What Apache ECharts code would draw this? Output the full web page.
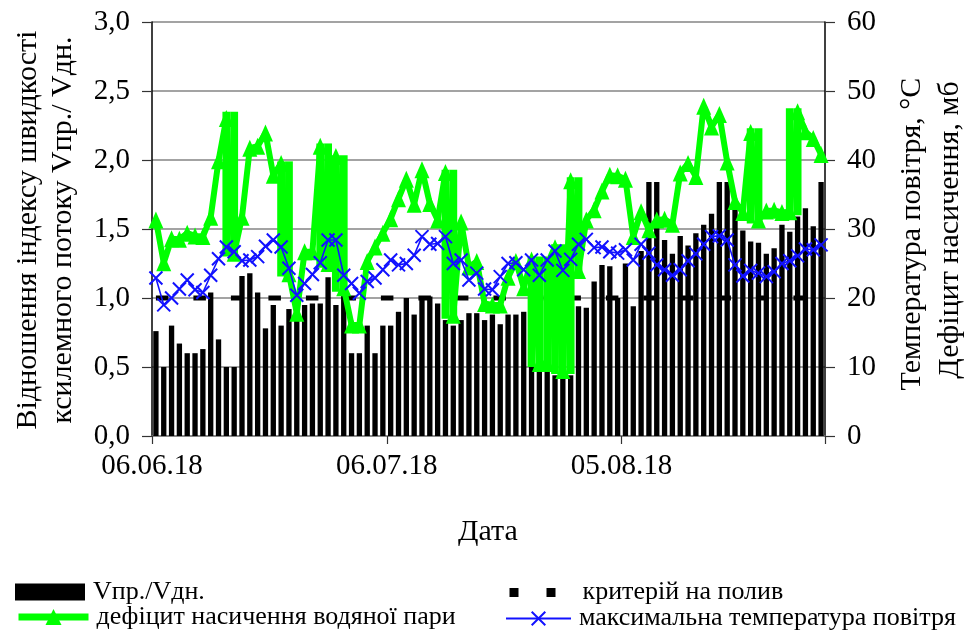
<!DOCTYPE html>
<html><head><meta charset="utf-8">
<script src="https://cdn.jsdelivr.net/npm/echarts@6/dist/echarts.min.js"></script>
<style>html,body{margin:0;padding:0;background:#fff}#c{width:968px;height:635px}</style>
</head><body><div id="c"></div>
<script>
// ---- categories (daily, 06.06.2018 .. 30.08.2018) ----
const firstDay = [2018, 6, 6];
const dayCount = 86;
const dates = [];
for (let i = 0; i < dayCount; i++) {
  const d = new Date(Date.UTC(firstDay[0], firstDay[1] - 1, firstDay[2] + i));
  dates.push(String(d.getUTCDate()).padStart(2, '0') + '.' + String(d.getUTCMonth() + 1).padStart(2, '0') + '.18');
}
const labelledDates = ['06.06.18', '06.07.18', '05.08.18'];

// ---- series values ----
const ratio = [0.76,0.50,0.80,0.67,0.60,0.60,0.63,1.04,0.70,0.50,
  0.50,1.16,1.18,1.04,0.78,0.95,0.80,0.92,0.93,0.95,
  0.96,0.96,1.15,0.95,1.03,0.60,0.60,0.80,0.60,0.80,
  0.80,0.90,1.00,0.88,1.00,1.01,0.96,0.84,0.80,0.84,
  0.89,0.89,0.84,0.88,0.81,0.88,0.88,0.90,0.56,0.50,
  0.50,0.44,0.44,0.44,0.94,0.93,1.12,1.24,1.23,1.00,
  1.25,0.94,1.34,1.84,1.84,1.42,1.32,1.45,1.38,1.47,
  1.53,1.61,1.84,1.84,1.69,1.49,1.41,1.40,1.32,1.36,
  1.53,1.48,1.59,1.65,1.52,1.84];

const criterion = [1,1,1,1,1,1,1,1,1,1, 1,1,1,1,1,1,1,1,1,1, 1,1,1,1,1,1,1,1,1,1,
  1,1,1,1,1,1,1,1,1,1, 1,1,1,1,1,1,1,1,1,1, 1,1,1,1,1,1,1,1,1,1,
  1,1,1,1,1,1,1,1,1,1, 1,1,1,1,1,1,1,1,1,1, 1,1,1,1,1,1];

const deficit = [31.3,25.1,28.6,28.5,29.4,29.0,28.9,31.7,39.9,46.0,
  26.5,31.7,41.7,42.0,43.9,37.8,39.5,23.5,17.8,26.7,
  26.7,42.0,25.0,40.5,21.5,16.1,16.1,25.3,27.4,29.4,
  31.5,34.4,37.2,33.6,38.6,33.7,31.3,38.2,17.5,31.0,
  24.5,25.3,19.2,19.0,19.0,23.0,25.3,21.5,25.5,10.5,
  10.5,27.3,9.5,37.0,24.0,31.3,32.8,35.5,37.8,37.7,
  37.2,28.9,32.5,29.9,31.3,31.4,30.7,38.1,39.5,37.6,
  47.8,44.8,46.6,39.7,34.0,32.4,44.0,31.3,32.6,32.7,
  32.4,32.5,47.0,44.1,43.1,40.8];

// days where the deficit trace forms solid vertical bands (low..high)
const spanDays = [9,10,16,17,21,22,23,24,37,38,48,49,50,51,52,53,54,76,77,81,82];
const spanLow  = [26,26,23.1,23.1,24.4,24.4,20.9,20.9,17.0,17.0,10,10,10,9,9,9,23.5,30.8,30.8,32,32];
const spanHigh = [47,47,39.8,39.8,42.4,42.4,40.7,40.7,38.6,38.6,26,26,26,27.8,27.8,37.5,37.5,44.6,44.6,47.5,47.5];

const temperature = [22.9,19.0,20.0,21.3,22.6,21.2,20.8,23.3,25.7,27.4,
  26.7,25.4,25.5,26.0,27.5,28.4,27.4,24.3,20.4,22.1,
  23.4,25.1,28.4,28.4,23.3,22.1,20.7,22.4,22.9,24.1,
  25.5,24.8,25.0,26.2,28.9,27.8,27.9,28.9,25.0,25.5,
  22.6,23.6,21.3,21.2,23.1,25.0,25.1,24.1,25.5,23.3,
  25.5,26.8,24.0,25.6,27.8,28.5,27.3,27.4,26.7,26.5,
  27.0,25.5,27.8,26.5,24.8,24.1,23.3,24.1,25.4,26.4,
  27.8,28.9,29.0,28.4,24.8,23.2,24.0,23.6,23.1,23.8,
  25.0,25.4,26.1,27.1,27.0,27.7];

// ---- axis ticks ----
const leftTicks = {min: 0, max: 3, step: 0.5};
const rightTicks = {min: 0, max: 60, step: 10};

const names = {
  ratio: 'Vпр./Vдн.',
  criterion: 'критерій на полив',
  deficit: 'дефіцит насичення водяної пари',
  temp: 'максимальна температура повітря'
};

const spanBase = dates.map(() => null);
const spanSize = dates.map(() => null);
spanDays.forEach((d, i) => { spanBase[d] = spanLow[i]; spanSize[d] = +(spanHigh[i] - spanLow[i]).toFixed(2); });

const FONT = 'Liberation Serif';
const GREEN = '#00ff00';
const BLUE = '#1212ff';
const isLabelled = (idx) => labelledDates.indexOf(dates[idx]) >= 0;

const legendText = {fontFamily: FONT, fontSize: 26, color: '#000', lineHeight: 26, padding: [0, 0, 0, 3]};
const legendBase = {orient: 'vertical', padding: 0, itemGap: 0, textStyle: legendText};

const chart = echarts.init(document.getElementById('c'), null, {renderer: 'canvas'});
chart.setOption({
  animation: false,
  backgroundColor: '#fff',
  grid: {left: 152, right: 143, top: 22, bottom: 199, containLabel: false, outerBoundsMode: 'none'},
  xAxis: [{
    type: 'category', data: dates, boundaryGap: true,
    axisLine: {show: true, lineStyle: {color: '#808080', width: 1.5}},
    axisTick: {show: true, alignWithLabel: false, interval: (i) => isLabelled(i), length: 8, lineStyle: {color: '#333', width: 1.2}},
    axisLabel: {interval: (i) => isLabelled(i), fontFamily: FONT, fontSize: 29, color: '#000', margin: 16, padding: [0, 8, 0, 0]},
    splitLine: {show: false}
  }, {
    type: 'category', data: dates, boundaryGap: true, show: false, gridIndex: 0
  }],
  yAxis: [{
    type: 'value', min: leftTicks.min, max: leftTicks.max, interval: leftTicks.step, position: 'left',
    axisLine: {show: true, lineStyle: {color: '#000', width: 1.5}},
    axisTick: {show: true, length: 10, lineStyle: {color: '#333', width: 1.2}},
    axisLabel: {fontFamily: FONT, fontSize: 29, color: '#000', margin: 22, formatter: (v) => v.toFixed(1).replace('.', ',')},
    splitLine: {show: true, lineStyle: {color: '#858585', width: 1.5}}
  }, {
    type: 'value', min: rightTicks.min, max: rightTicks.max, interval: rightTicks.step, position: 'right',
    axisLine: {show: true, lineStyle: {color: '#000', width: 1.5}},
    axisTick: {show: true, length: 10, lineStyle: {color: '#333', width: 1.2}},
    axisLabel: {fontFamily: FONT, fontSize: 29, color: '#000', margin: 22},
    splitLine: {show: false}
  }],
  legend: [
    Object.assign({}, legendBase, {left: 15, top: 579, itemWidth: 70, itemHeight: 17,
      data: [{name: names.ratio, icon: 'rect'}]}),
    Object.assign({}, legendBase, {left: 15, top: 604, itemWidth: 70, itemHeight: 20,
      data: [{name: names.deficit, lineStyle: {width: 7}}]}),
    Object.assign({}, legendBase, {left: 505, top: 579.5, itemWidth: 65, itemHeight: 17,
      data: [{name: names.criterion, lineStyle: {width: 9, type: [9, 28], cap: 'butt'},
              itemStyle: {color: 'rgba(0,0,0,0)', borderWidth: 0, opacity: 0}}]}),
    Object.assign({}, legendBase, {left: 505, top: 605.5, itemWidth: 65, itemHeight: 17,
      data: [{name: names.temp}]})
  ],
  graphic: [
    {type: 'text', x: 28, y: 230, rotation: Math.PI / 2, style: {text: 'Відношення індексу швидкості', fontFamily: FONT, fontSize: 30, fill: '#000', align: 'center', verticalAlign: 'middle'}},
    {type: 'text', x: 63, y: 230, rotation: Math.PI / 2, style: {text: 'ксилемного потоку Vпр./ Vдн.', fontFamily: FONT, fontSize: 30, fill: '#000', align: 'center', verticalAlign: 'middle'}},
    {type: 'text', x: 912, y: 234, rotation: Math.PI / 2, style: {text: 'Температура повітря, °С', fontFamily: FONT, fontSize: 30, fill: '#000', align: 'center', verticalAlign: 'middle'}},
    {type: 'text', x: 950, y: 230, rotation: Math.PI / 2, style: {text: 'Дефіцит насичення, мб', fontFamily: FONT, fontSize: 30, fill: '#000', align: 'center', verticalAlign: 'middle'}},
    {type: 'text', x: 488, y: 532, style: {text: 'Дата', fontFamily: FONT, fontSize: 30, fill: '#000', align: 'center', verticalAlign: 'middle'}}
  ],
  series: [{
    name: names.ratio, type: 'bar', xAxisIndex: 0, yAxisIndex: 0, data: ratio,
    barWidth: '68%', itemStyle: {color: '#000'}, z: 2
  }, {
    name: names.criterion, type: 'line', xAxisIndex: 0, yAxisIndex: 0, data: criterion,
    symbol: 'none', lineStyle: {color: '#000', width: 5, type: [12.5, 25], cap: 'butt'}, itemStyle: {color: '#000'}, z: 3
  }, {
    name: 'spanBase', type: 'bar', xAxisIndex: 1, yAxisIndex: 1, stack: 'span', data: spanBase,
    barWidth: '100%', itemStyle: {color: 'rgba(0,0,0,0)'}, silent: true, z: 4
  }, {
    name: 'spanSize', type: 'bar', xAxisIndex: 1, yAxisIndex: 1, stack: 'span', data: spanSize,
    barWidth: '100%', itemStyle: {color: GREEN}, silent: true, z: 4
  }, {
    name: names.deficit, type: 'line', xAxisIndex: 0, yAxisIndex: 1, data: deficit,
    symbol: 'triangle', symbolSize: [15, 17], showAllSymbol: true,
    lineStyle: {color: GREEN, width: 6}, itemStyle: {color: GREEN}, z: 5
  }, {
    name: names.temp, type: 'line', xAxisIndex: 0, yAxisIndex: 1, data: temperature,
    symbol: 'path://M0,0L10,10M10,0L0,10', symbolSize: 13, showAllSymbol: true,
    lineStyle: {color: BLUE, width: 1.6}, itemStyle: {color: BLUE, borderColor: BLUE, borderWidth: 2}, z: 6
  }]
});
</script>
</body></html>
